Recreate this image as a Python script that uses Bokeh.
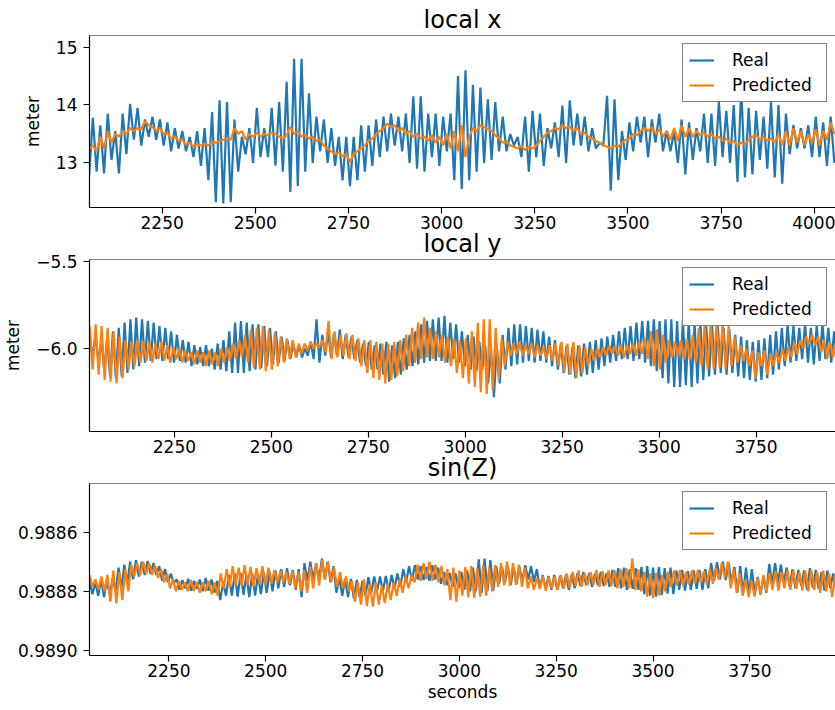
import numpy as np
from bokeh.plotting import figure
from bokeh.layouts import column
from bokeh.models import Range1d, FixedTicker, Span, CustomJSTickFormatter
from bokeh.embed import file_html
from bokeh.resources import INLINE

FONT = "DejaVu Sans"
BLUE = "#1f77b4"
ORANGE = "#ff7f0e"

# ---------------------------------------------------------------- local x
local_x_t0, local_x_dt = 2054.0, 10.0
local_x_real = [
    12.78, 13.78, 12.85, 13.65, 12.82, 13.85, 13.05, 13.55, 12.82, 13.85,
    13.15, 14.02, 13.4, 13.95, 13.3, 13.75, 13.45, 13.8, 13.4, 13.75,
    13.3, 13.7, 13.2, 13.6, 13.25, 13.55, 13.2, 13.45, 13.1, 13.55,
    12.95, 13.6, 12.7, 13.88, 12.32, 14.08, 12.3, 14.05, 12.32, 13.75,
    12.85, 13.45, 13.15, 13.6, 13.0, 13.95, 13.1, 13.6, 13.1, 13.95,
    12.95, 14.05, 12.85, 14.4, 12.5, 14.8, 12.6, 14.8, 12.85, 14.2,
    13.0, 13.8, 13.2, 13.75, 13.0, 13.6, 12.95, 13.45, 12.7, 13.45,
    12.6, 13.45, 12.7, 13.65, 12.85, 13.65, 12.95, 13.75, 13.1, 13.8,
    13.2, 13.85, 13.3, 13.8, 13.2, 13.85, 13.0, 14.15, 12.9, 14.15,
    12.85, 13.85, 13.1, 13.85, 12.95, 13.8, 13.2, 13.85, 12.7, 14.5,
    12.55, 14.6, 12.7, 14.35, 12.85, 14.3, 13.0, 14.1, 13.05, 14.05,
    13.2, 13.8, 13.2, 13.5, 13.3, 13.45, 13.1, 13.8, 12.85, 13.9,
    13.1, 13.85, 12.95, 13.6, 13.25, 13.7, 13.1, 13.99, 13.0, 14.08,
    13.3, 13.85, 13.3, 13.8, 13.2, 13.6, 13.25, 13.35, 13.3, 14.16,
    12.52, 14.1, 12.7, 13.55, 13.05, 13.7, 13.2, 13.8, 13.35, 13.8,
    13.1, 13.75, 13.35, 13.85, 13.2, 13.55, 13.2, 13.55, 13.0, 13.75,
    12.8, 13.7, 13.05, 13.6, 13.2, 13.85, 13.0, 13.85, 12.95, 14.05,
    13.1, 13.9, 13.0, 14.0, 12.67, 14.3, 12.75, 13.95, 12.8, 13.9,
    13.05, 13.8, 12.9, 14.05, 12.75, 14.0, 12.64, 13.85, 13.15, 13.65,
    13.25, 13.6, 13.25, 13.65, 13.1, 13.8, 13.1, 13.7, 12.95, 13.8, 13.0,
]
local_x_pred = [
    13.25, 13.3, 13.2, 13.45, 13.25, 13.55, 13.35, 13.5, 13.45, 13.55,
    13.5, 13.6, 13.55, 13.6, 13.58, 13.72, 13.65, 13.62, 13.55, 13.6,
    13.5, 13.52, 13.42, 13.45, 13.38, 13.4, 13.32, 13.35, 13.28, 13.32,
    13.3, 13.33, 13.3, 13.36, 13.35, 13.38, 13.4, 13.42, 13.4, 13.6,
    13.5, 13.55, 13.4, 13.5, 13.45, 13.52, 13.45, 13.5, 13.48, 13.52,
    13.5, 13.45, 13.42, 13.48, 13.62, 13.5, 13.55, 13.45, 13.48, 13.42,
    13.45, 13.38, 13.4, 13.3, 13.25, 13.2, 13.15, 13.18, 13.12, 13.15,
    13.02, 13.15, 13.2, 13.25, 13.3, 13.38, 13.42, 13.5, 13.55, 13.6,
    13.68, 13.62, 13.65, 13.55, 13.6, 13.5, 13.55, 13.45, 13.5, 13.42,
    13.45, 13.38, 13.48, 13.35, 13.45, 13.3, 13.5, 13.25, 13.55, 13.2,
    13.65, 13.1, 13.45, 13.6, 13.55, 13.65, 13.62, 13.58, 13.55, 13.48,
    13.42, 13.35, 13.38, 13.3, 13.28, 13.25, 13.3, 13.22, 13.28, 13.25,
    13.3, 13.38, 13.45, 13.52, 13.55, 13.6, 13.58, 13.65, 13.6, 13.62,
    13.55, 13.6, 13.5, 13.52, 13.45, 13.42, 13.38, 13.35, 13.3, 13.28,
    13.25, 13.3, 13.28, 13.35, 13.4, 13.42, 13.5, 13.48, 13.55, 13.6,
    13.55, 13.62, 13.5, 13.58, 13.45, 13.55, 13.4, 13.6, 13.38, 13.65,
    13.45, 13.6, 13.45, 13.55, 13.48, 13.52, 13.45, 13.5, 13.42, 13.45,
    13.38, 13.42, 13.35, 13.38, 13.3, 13.35, 13.32, 13.4, 13.45, 13.48,
    13.4, 13.45, 13.38, 13.42, 13.35, 13.5, 13.3, 13.55, 13.3, 13.6,
    13.35, 13.55, 13.3, 13.5, 13.35, 13.58, 13.3, 13.55, 13.4, 13.7, 13.5,
]

# ---------------------------------------------------------------- local y
local_y_t0 = 2031.5
local_y_real_dt, local_y_pred_dt = 7.5, 7.7
local_y_real = [
    -5.93, -6.05, -5.92, -6.08, -5.95, -6.12, -5.94, -6.16, -5.9, -6.17,
    -5.88, -6.16, -5.85, -6.14, -5.83, -6.12, -5.82, -6.1, -5.83, -6.08,
    -5.84, -6.07, -5.85, -6.06, -5.87, -6.07, -5.88, -6.06, -5.9, -6.08,
    -5.92, -6.07, -5.95, -6.08, -5.96, -6.1, -5.98, -6.09, -5.99, -6.1,
    -5.98, -6.1, -6.0, -6.12, -5.97, -6.12, -5.95, -6.13, -5.9, -6.14,
    -5.85, -6.14, -5.84, -6.14, -5.85, -6.13, -5.86, -6.12, -5.86, -6.11,
    -5.87, -6.1, -5.88, -6.09, -5.9, -6.08, -5.93, -6.07, -5.95, -6.06,
    -5.97, -6.05, -5.98, -6.05, -6.0, -6.04, -5.96, -6.06, -5.83, -6.08,
    -5.92, -6.04, -5.9, -6.05, -5.91, -6.04, -5.89, -6.06, -5.92, -6.05,
    -5.93, -6.06, -5.95, -6.08, -5.97, -6.1, -5.96, -6.12, -5.98, -6.12,
    -5.97, -6.15, -5.96, -6.19, -5.98, -6.17, -5.96, -6.15, -5.94, -6.12,
    -5.92, -6.1, -5.9, -6.09, -5.86, -6.08, -5.84, -6.07, -5.83, -6.07,
    -5.82, -6.07, -5.81, -6.08, -5.85, -6.06, -5.86, -6.08, -5.9, -6.1,
    -5.92, -6.12, -5.93, -6.13, -5.96, -6.12, -5.98, -6.2, -6.0, -6.28,
    -5.98, -6.2, -5.92, -6.12, -5.88, -6.1, -5.86, -6.09, -5.86, -6.08,
    -5.87, -6.07, -5.88, -6.08, -5.89, -6.07, -5.9, -6.08, -5.93, -6.1,
    -5.95, -6.12, -5.97, -6.14, -5.98, -6.15, -5.99, -6.17, -5.98, -6.16,
    -5.97, -6.15, -5.96, -6.14, -5.95, -6.12, -5.94, -6.1, -5.93, -6.08,
    -5.92, -6.07, -5.9, -6.06, -5.88, -6.06, -5.87, -6.07, -5.85, -6.06,
    -5.84, -6.08, -5.84, -6.1, -5.83, -6.13, -5.84, -6.17, -5.83, -6.2,
    -5.83, -6.22, -5.84, -6.22, -5.83, -6.21, -5.84, -6.22, -5.85, -6.2,
    -5.85, -6.18, -5.86, -6.16, -5.86, -6.15, -5.87, -6.14, -5.88, -6.15,
    -5.89, -6.14, -5.92, -6.16, -5.93, -6.17, -5.95, -6.18, -5.96, -6.19,
    -5.95, -6.18, -5.94, -6.17, -5.92, -6.15, -5.9, -6.12, -5.88, -6.1,
    -5.86, -6.08, -5.87, -6.07, -5.88, -6.06, -5.86, -6.08, -5.88, -6.09,
    -5.87, -6.07, -5.86, -6.06, -5.88, -6.08, -5.9, -6.07,
]
local_y_pred = [
    -5.87, -6.12, -5.86, -6.15, -5.87, -6.18, -5.88, -6.19, -5.9, -6.2,
    -5.93, -6.17, -5.95, -6.12, -5.96, -6.1, -5.95, -6.08, -5.96, -6.07,
    -5.96, -6.08, -5.97, -6.06, -5.96, -6.07, -5.98, -6.08, -5.99, -6.06,
    -6.0, -6.08, -6.01, -6.07, -6.02, -6.09, -6.01, -6.08, -6.02, -6.1,
    -6.01, -6.09, -6.02, -6.1, -6.0, -6.08, -5.99, -6.07, -5.97, -6.06,
    -5.95, -6.05, -5.92, -6.08, -5.89, -6.11, -5.88, -6.12, -5.87, -6.13,
    -5.89, -6.12, -5.91, -6.1, -5.93, -6.08, -5.94, -6.06, -5.95, -6.05,
    -5.97, -6.03, -5.97, -6.01, -5.96, -6.0, -5.97, -5.99, -5.95, -6.02,
    -5.84, -6.06, -5.9, -6.05, -5.92, -6.04, -5.91, -6.06, -5.92, -6.07,
    -5.94, -6.1, -5.95, -6.14, -5.95, -6.17, -5.96, -6.18, -5.97, -6.2,
    -5.97, -6.18, -5.96, -6.16, -5.95, -6.13, -5.92, -6.1, -5.88, -6.08,
    -5.85, -6.06, -5.82, -6.05, -5.88, -6.06, -5.9, -6.05, -5.92, -6.08,
    -5.93, -6.1, -5.94, -6.14, -5.95, -6.17, -5.94, -6.2, -5.9, -6.22,
    -5.85, -6.25, -5.83, -6.26, -5.83, -6.24, -5.88, -6.18, -5.94, -6.1,
    -5.96, -6.04, -5.97, -6.03, -5.96, -6.04, -5.98, -6.03, -5.97, -6.05,
    -5.98, -6.04, -5.99, -6.06, -5.98, -6.07, -5.97, -6.1, -5.96, -6.13,
    -5.97, -6.15, -5.96, -6.17, -5.98, -6.14, -5.99, -6.1, -6.0, -6.07,
    -6.0, -6.05, -5.99, -6.04, -5.98, -6.03, -5.99, -6.04, -5.98, -6.05,
    -5.98, -6.03, -5.97, -6.04, -5.96, -6.03, -5.94, -6.06, -5.9, -6.1,
    -5.89, -6.12, -5.92, -6.08, -5.95, -6.05, -5.96, -6.04, -5.95, -6.06,
    -5.94, -6.06, -5.92, -6.08, -5.88, -6.1, -5.86, -6.12, -5.85, -6.12,
    -5.84, -6.11, -5.85, -6.12, -5.87, -6.1, -5.93, -6.08, -5.98, -6.07,
    -6.0, -6.1, -6.01, -6.17, -6.02, -6.1, -6.01, -6.15, -6.03, -6.1,
    -6.02, -6.08, -6.0, -6.07, -5.99, -6.05, -5.96, -6.03, -5.95, -6.0,
    -5.93, -5.97, -5.92, -5.98, -5.93, -6.02, -5.95, -6.06, -5.96, -6.05, -5.97,
]

# ---------------------------------------------------------------- sin(Z)
sin_z_t0 = 2045.0
sin_z_real_dt, sin_z_pred_dt = 7.5, 7.7
sin_z_real = [
    0.988763, 0.988810, 0.988770, 0.988815, 0.988760, 0.988820, 0.988765, 0.988812, 0.988755, 0.988800,
    0.988720, 0.988790, 0.988710, 0.988775, 0.988700, 0.988760, 0.988695, 0.988750, 0.988700, 0.988745,
    0.988698, 0.988742, 0.988705, 0.988745, 0.988715, 0.988765, 0.988725, 0.988770, 0.988740, 0.988772,
    0.988760, 0.988795, 0.988762, 0.988790, 0.988758, 0.988798, 0.988765, 0.988792, 0.988760, 0.988800,
    0.988755, 0.988798, 0.988760, 0.988805, 0.988765, 0.988830, 0.988770, 0.988815, 0.988745, 0.988815,
    0.988740, 0.988818, 0.988738, 0.988812, 0.988745, 0.988820, 0.988740, 0.988815, 0.988742, 0.988810,
    0.988738, 0.988805, 0.988735, 0.988800, 0.988730, 0.988790, 0.988725, 0.988785, 0.988722, 0.988780,
    0.988728, 0.988795, 0.988725, 0.988820, 0.988705, 0.988765, 0.988700, 0.988760, 0.988705, 0.988762,
    0.988690, 0.988760, 0.988700, 0.988770, 0.988715, 0.988805, 0.988755, 0.988815, 0.988760, 0.988820,
    0.988758, 0.988825, 0.988762, 0.988820, 0.988765, 0.988815, 0.988752, 0.988805, 0.988750, 0.988800,
    0.988750, 0.988800, 0.988748, 0.988798, 0.988745, 0.988790, 0.988740, 0.988785, 0.988725, 0.988770,
    0.988715, 0.988765, 0.988712, 0.988760, 0.988715, 0.988762, 0.988718, 0.988765, 0.988712, 0.988760,
    0.988720, 0.988775, 0.988735, 0.988780, 0.988738, 0.988785, 0.988740, 0.988790, 0.988735, 0.988795,
    0.988730, 0.988800, 0.988720, 0.988800, 0.988692, 0.988805, 0.988690, 0.988800, 0.988695, 0.988798,
    0.988715, 0.988775, 0.988718, 0.988772, 0.988715, 0.988778, 0.988720, 0.988775, 0.988718, 0.988765,
    0.988712, 0.988760, 0.988715, 0.988768, 0.988725, 0.988790, 0.988745, 0.988792, 0.988748, 0.988795,
    0.988745, 0.988795, 0.988748, 0.988790, 0.988745, 0.988795, 0.988742, 0.988790, 0.988738, 0.988782,
    0.988735, 0.988780, 0.988738, 0.988785, 0.988740, 0.988780, 0.988735, 0.988782, 0.988738, 0.988785,
    0.988728, 0.988785, 0.988722, 0.988790, 0.988720, 0.988795, 0.988725, 0.988792, 0.988722, 0.988795,
    0.988718, 0.988810, 0.988715, 0.988815, 0.988720, 0.988818, 0.988718, 0.988812, 0.988722, 0.988808,
    0.988720, 0.988810, 0.988730, 0.988795, 0.988728, 0.988798, 0.988732, 0.988795, 0.988730, 0.988792,
    0.988728, 0.988795, 0.988725, 0.988790, 0.988705, 0.988765, 0.988702, 0.988760, 0.988700, 0.988762,
    0.988705, 0.988770, 0.988718, 0.988805, 0.988715, 0.988808, 0.988720, 0.988810, 0.988725, 0.988808,
    0.988752, 0.988810, 0.988750, 0.988805, 0.988708, 0.988775, 0.988705, 0.988772, 0.988710, 0.988770,
    0.988720, 0.988785, 0.988725, 0.988790, 0.988728, 0.988782, 0.988730, 0.988795, 0.988722, 0.988788,
    0.988728, 0.988792, 0.988735, 0.988798, 0.988730, 0.988790, 0.988740, 0.988795,
]
sin_z_pred = [
    0.988745, 0.988785, 0.988760, 0.988795, 0.988750, 0.988800, 0.988745, 0.988835, 0.988730, 0.988840,
    0.988735, 0.988830, 0.988725, 0.988800, 0.988710, 0.988750, 0.988705, 0.988745, 0.988700, 0.988742,
    0.988705, 0.988745, 0.988712, 0.988755, 0.988725, 0.988770, 0.988740, 0.988790, 0.988760, 0.988800,
    0.988765, 0.988795, 0.988770, 0.988800, 0.988762, 0.988798, 0.988768, 0.988805, 0.988770, 0.988800,
    0.988765, 0.988810, 0.988770, 0.988815, 0.988740, 0.988790, 0.988725, 0.988785, 0.988715, 0.988780,
    0.988720, 0.988782, 0.988712, 0.988778, 0.988718, 0.988785, 0.988722, 0.988775, 0.988715, 0.988780,
    0.988720, 0.988775, 0.988728, 0.988772, 0.988730, 0.988770, 0.988735, 0.988775, 0.988730, 0.988790,
    0.988735, 0.988800, 0.988728, 0.988805, 0.988715, 0.988790, 0.988705, 0.988780, 0.988695, 0.988760,
    0.988700, 0.988770, 0.988720, 0.988785, 0.988735, 0.988790, 0.988750, 0.988800, 0.988765, 0.988835,
    0.988770, 0.988845, 0.988760, 0.988850, 0.988775, 0.988852, 0.988770, 0.988845, 0.988780, 0.988840,
    0.988775, 0.988830, 0.988770, 0.988815, 0.988760, 0.988805, 0.988750, 0.988790, 0.988745, 0.988770,
    0.988710, 0.988765, 0.988705, 0.988760, 0.988700, 0.988765, 0.988710, 0.988770, 0.988715, 0.988780,
    0.988725, 0.988830, 0.988720, 0.988835, 0.988730, 0.988815, 0.988718, 0.988820, 0.988715, 0.988822,
    0.988720, 0.988818, 0.988712, 0.988815, 0.988720, 0.988800, 0.988712, 0.988785, 0.988705, 0.988780,
    0.988700, 0.988782, 0.988705, 0.988778, 0.988710, 0.988785, 0.988720, 0.988790, 0.988750, 0.988795,
    0.988755, 0.988792, 0.988748, 0.988798, 0.988752, 0.988790, 0.988750, 0.988795, 0.988745, 0.988792,
    0.988740, 0.988788, 0.988735, 0.988782, 0.988730, 0.988785, 0.988738, 0.988780, 0.988735, 0.988778,
    0.988728, 0.988785, 0.988732, 0.988780, 0.988730, 0.988782, 0.988728, 0.988790, 0.988725, 0.988785,
    0.988722, 0.988790, 0.988690, 0.988795, 0.988725, 0.988800, 0.988735, 0.988818, 0.988740, 0.988822,
    0.988738, 0.988815, 0.988745, 0.988800, 0.988735, 0.988785, 0.988730, 0.988780, 0.988728, 0.988782,
    0.988735, 0.988778, 0.988730, 0.988775, 0.988728, 0.988772, 0.988732, 0.988778, 0.988725, 0.988775,
    0.988720, 0.988760, 0.988705, 0.988755, 0.988700, 0.988790, 0.988725, 0.988805, 0.988740, 0.988815,
    0.988760, 0.988820, 0.988765, 0.988818, 0.988755, 0.988812, 0.988745, 0.988800, 0.988738, 0.988795,
    0.988732, 0.988798, 0.988735, 0.988790, 0.988730, 0.988795, 0.988728, 0.988792, 0.988735, 0.988798,
    0.988730, 0.988800, 0.988728, 0.988795, 0.988735, 0.988805, 0.988730, 0.988800, 0.988740, 0.988820,
    0.988745, 0.988815,
]

# ---------------------------------------------------------------- axes setup
x_ticks_long = [2250, 2500, 2750, 3000, 3250, 3500, 3750, 4000]
x_ticks = [2250, 2500, 2750, 3000, 3250, 3500, 3750]
local_x_yticks = [13, 14, 15]
local_y_yticks = [-6.0, -5.5]
sin_z_yticks = [0.9886, 0.9888, 0.9890]


def times(t0, dt, values):
    return t0 + dt * np.arange(len(values))


def panel(title, real_t, real, pred_t, pred, x_range, y_range, xticks, yticks,
          ydigits, ylabel, height, top, bottom, xlabel=None, overlap=0):
    p = figure(width=835, height=height, output_backend="svg",
               toolbar_location=None, x_range=Range1d(*x_range),
               y_range=Range1d(*y_range), title=title,
               min_border_left=89, min_border_right=0,
               min_border_top=top, min_border_bottom=bottom)
    p.outline_line_color = None
    p.background_fill_color = "white"
    # transparent margins, so the heading may sit over the panel above
    p.border_fill_alpha = 0
    if overlap:
        p.margin = (-overlap, 0, 0, 0)
    p.xgrid.visible = False
    p.ygrid.visible = False

    p.title.text_font = FONT
    p.title.text_font_size = "24px"
    p.title.text_font_style = "normal"
    p.title.text_color = "black"
    p.title.align = "center"
    p.title.standoff = 3

    p.line(real_t, real, line_color=BLUE, line_width=2.2, legend_label="Real")
    p.line(pred_t, pred, line_color=ORANGE, line_width=2.2, legend_label="Predicted")

    # top edge of the frame (the right edge lies beyond the page)
    p.add_layout(Span(location=y_range[1], dimension="width",
                      line_color="black", line_width=1.2))

    for ax in (p.xaxis[0], p.yaxis[0]):
        ax.axis_line_color = "black"
        ax.axis_line_width = 1.2
        ax.major_tick_line_color = "black"
        ax.major_tick_line_width = 1.2
        ax.major_tick_out = 6
        ax.major_tick_in = 0
        ax.minor_tick_line_color = None
        ax.major_label_text_font = FONT
        ax.major_label_text_font_size = "17px"
        ax.major_label_text_color = "black"
        ax.axis_label_text_font = FONT
        ax.axis_label_text_font_size = "17px"
        ax.axis_label_text_font_style = "normal"
        ax.axis_label_text_color = "black"

    p.xaxis.ticker = FixedTicker(ticks=xticks)
    p.xaxis.major_label_standoff = 2
    p.xaxis.formatter = CustomJSTickFormatter(code="return tick.toFixed(0);")
    p.yaxis.ticker = FixedTicker(ticks=yticks)
    p.yaxis.major_label_standoff = 6
    p.yaxis.formatter = CustomJSTickFormatter(
        code="return tick.toFixed(%d).replace('-', '\u2212');" % ydigits)
    if ylabel:
        p.yaxis.axis_label = ylabel
        p.yaxis.axis_label_standoff = 10
    if xlabel:
        p.xaxis.axis_label = xlabel
        p.xaxis.axis_label_standoff = 2

    lg = p.legend[0]
    lg.location = "top_right"
    lg.border_line_color = "black"
    lg.border_line_width = 1.2
    lg.background_fill_color = "white"
    lg.background_fill_alpha = 1.0
    lg.label_text_font = FONT
    lg.label_text_font_size = "17px"
    lg.label_text_color = "black"
    lg.glyph_width = 25
    lg.glyph_height = 18
    lg.label_height = 18
    lg.label_width = 88
    lg.label_standoff = 18
    lg.padding = 6
    lg.spacing = 5
    lg.margin = 8
    return p


p1 = panel("local x",
           times(local_x_t0, local_x_dt, local_x_real), local_x_real,
           times(local_x_t0, local_x_dt, local_x_pred), local_x_pred,
           (2055, 4057), (12.23, 15.2), x_ticks_long, local_x_yticks, 0,
           "meter", 235, 35, 28)
p2 = panel("local y",
           times(local_y_t0, local_y_real_dt, local_y_real), local_y_real,
           times(local_y_t0, local_y_pred_dt, local_y_pred), local_y_pred,
           (2031, 3955), (-6.477, -5.486), x_ticks, local_y_yticks, 1,
           "meter", 240, 40, 28, overlap=16)
p3 = panel("sin(Z)",
           times(sin_z_t0, sin_z_real_dt, sin_z_real), sin_z_real,
           times(sin_z_t0, sin_z_pred_dt, sin_z_pred), sin_z_pred,
           (2045, 3971), (0.989017, 0.988436), x_ticks, sin_z_yticks, 4,
           None, 267, 40, 55, xlabel="seconds", overlap=16)

layout = column(p1, p2, p3, spacing=0)
open("out.html", "w").write(file_html(layout, INLINE))
